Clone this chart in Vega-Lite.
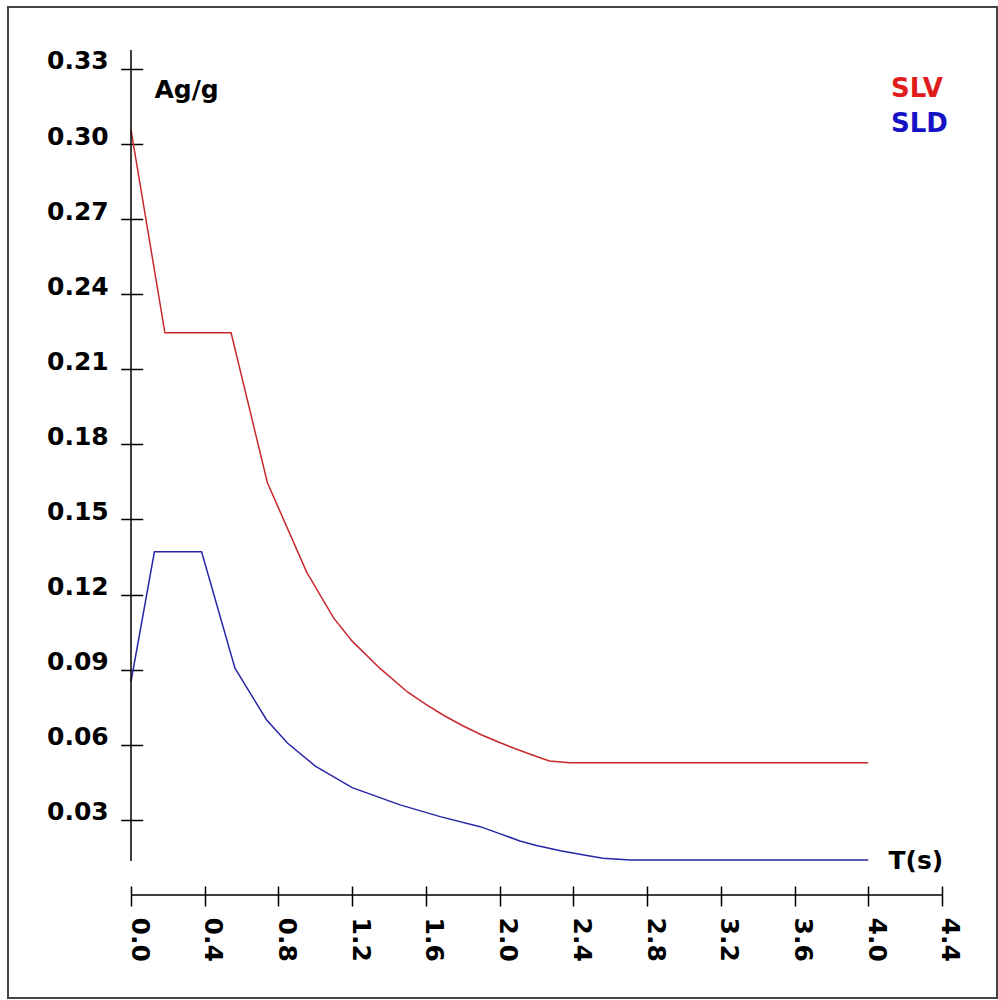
{
  "$schema": "https://vega.github.io/schema/vega-lite/v6.json",
  "autosize": "none",
  "padding": {"left": 8, "top": 7, "right": 1, "bottom": 2},
  "width": 989,
  "height": 991,
  "background": "white",
  "config": {"view": {"stroke": "#444444", "strokeWidth": 2}, "font": "DejaVu Sans"},
  "datasets": {
    "spectra": [
      {"series": "SLV", "T": 0, "Ag": 0.3056},
      {"series": "SLV", "T": 0.184, "Ag": 0.2246},
      {"series": "SLV", "T": 0.543, "Ag": 0.2246},
      {"series": "SLV", "T": 0.74, "Ag": 0.1647},
      {"series": "SLV", "T": 0.953, "Ag": 0.129},
      {"series": "SLV", "T": 1.1, "Ag": 0.1106},
      {"series": "SLV", "T": 1.2, "Ag": 0.1014},
      {"series": "SLV", "T": 1.351, "Ag": 0.0905},
      {"series": "SLV", "T": 1.5, "Ag": 0.0811},
      {"series": "SLV", "T": 1.6, "Ag": 0.0761},
      {"series": "SLV", "T": 1.7, "Ag": 0.0716},
      {"series": "SLV", "T": 1.8, "Ag": 0.0676},
      {"series": "SLV", "T": 1.9, "Ag": 0.064},
      {"series": "SLV", "T": 2.0, "Ag": 0.0609},
      {"series": "SLV", "T": 2.1, "Ag": 0.058},
      {"series": "SLV", "T": 2.2, "Ag": 0.0553},
      {"series": "SLV", "T": 2.27, "Ag": 0.0535},
      {"series": "SLV", "T": 2.38, "Ag": 0.05285},
      {"series": "SLV", "T": 4.0, "Ag": 0.05285},
      {"series": "SLD", "T": 0, "Ag": 0.0852},
      {"series": "SLD", "T": 0.127, "Ag": 0.1371},
      {"series": "SLD", "T": 0.383, "Ag": 0.1371},
      {"series": "SLD", "T": 0.564, "Ag": 0.0906},
      {"series": "SLD", "T": 0.736, "Ag": 0.0699},
      {"series": "SLD", "T": 0.85, "Ag": 0.0606},
      {"series": "SLD", "T": 1.0, "Ag": 0.0515},
      {"series": "SLD", "T": 1.2, "Ag": 0.0429},
      {"series": "SLD", "T": 1.46, "Ag": 0.036},
      {"series": "SLD", "T": 1.677, "Ag": 0.0313},
      {"series": "SLD", "T": 1.894, "Ag": 0.0273},
      {"series": "SLD", "T": 2.0, "Ag": 0.0245},
      {"series": "SLD", "T": 2.11, "Ag": 0.0216},
      {"series": "SLD", "T": 2.2, "Ag": 0.0198},
      {"series": "SLD", "T": 2.33, "Ag": 0.0177},
      {"series": "SLD", "T": 2.45, "Ag": 0.0161},
      {"series": "SLD", "T": 2.56, "Ag": 0.0147},
      {"series": "SLD", "T": 2.71, "Ag": 0.014},
      {"series": "SLD", "T": 4.0, "Ag": 0.014}
    ]
  },
  "layer": [
    {
      "data": {"name": "spectra"},
      "mark": {"type": "line", "strokeWidth": 1.5},
      "encoding": {
        "x": {
          "field": "T", "type": "quantitative",
          "scale": {"domain": [-0.66733, 4.6984], "nice": false, "zero": false},
          "axis": {
            "values": [0, 0.4, 0.8, 1.2, 1.6, 2.0, 2.4, 2.8, 3.2, 3.6, 4.0, 4.4],
            "format": ".1f", "orient": "bottom", "offset": -112,
            "domain": false, "grid": false,
            "tickSize": 20, "tickWidth": 1.5, "tickColor": "black",
            "labelAngle": 90, "labelAlign": "left", "labelBaseline": "alphabetic",
            "labelPadding": 11, "labelFont": "DejaVu Sans", "labelFontSize": 25, "labelFontWeight": "bold",
            "labelColor": "black", "labelFlush": false, "labelOverlap": false,
            "title": "T(s)", "titleX": 880, "titleY": -18, "titleAngle": 0,
            "titleAlign": "left", "titleBaseline": "alphabetic",
            "titleFont": "DejaVu Sans", "titleFontSize": 25, "titleFontWeight": "bold", "titleColor": "black"
          }
        },
        "y": {
          "field": "Ag", "type": "quantitative",
          "scale": {"domain": [-0.04115, 0.35473], "nice": false, "zero": false},
          "axis": {
            "values": [0.03, 0.06, 0.09, 0.12, 0.15, 0.18, 0.21, 0.24, 0.27, 0.30, 0.33],
            "format": ".2f", "orient": "left", "offset": -134.7,
            "domain": false, "grid": false,
            "tickSize": 22, "tickWidth": 1.5, "tickColor": "black",
            "labelAlign": "right", "labelBaseline": "alphabetic",
            "labelPadding": 12.5, "labelFont": "DejaVu Sans", "labelFontSize": 25, "labelFontWeight": "bold",
            "labelColor": "black", "labelFlush": false, "labelOverlap": false,
            "title": "Ag/g", "titleX": 11.3, "titleY": 90, "titleAngle": 0,
            "titleAlign": "left", "titleBaseline": "alphabetic",
            "titleFont": "DejaVu Sans", "titleFontSize": 25, "titleFontWeight": "bold", "titleColor": "black"
          }
        },
        "color": {
          "field": "series", "type": "nominal",
          "scale": {"domain": ["SLV", "SLD"], "range": ["#c8282d", "#2626a6"]},
          "legend": null
        }
      }
    },
    {
      "data": {"values": [{}]},
      "mark": {"type": "rule", "color": "black", "strokeWidth": 1.5},
      "encoding": {"x": {"datum": 0}, "y": {"datum": 0.01358}, "y2": {"datum": 0.33756}}
    },
    {
      "data": {"values": [{}]},
      "mark": {"type": "rule", "color": "black", "strokeWidth": 1.5},
      "encoding": {"x": {"datum": 0}, "x2": {"datum": 4.4}, "y": {"datum": 0}}
    },
    {
      "data": {"values": [{"label": "SLV"}]},
      "mark": {"type": "text", "align": "left", "baseline": "alphabetic", "font": "DejaVu Sans", "fontSize": 26, "fontWeight": "bold", "color": "#e01c1c"},
      "encoding": {"x": {"datum": 4.1234}, "y": {"datum": 0.3189}, "text": {"field": "label"}}
    },
    {
      "data": {"values": [{"label": "SLD"}]},
      "mark": {"type": "text", "align": "left", "baseline": "alphabetic", "font": "DejaVu Sans", "fontSize": 26, "fontWeight": "bold", "color": "#1414c4"},
      "encoding": {"x": {"datum": 4.1234}, "y": {"datum": 0.3049}, "text": {"field": "label"}}
    }
  ]
}
